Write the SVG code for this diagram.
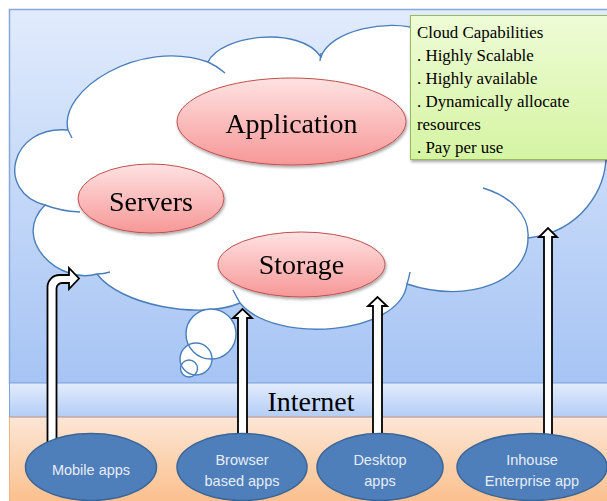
<svg xmlns="http://www.w3.org/2000/svg" width="607" height="501" viewBox="0 0 607 501">
  <defs>
    <linearGradient id="skyGrad" x1="0" y1="0" x2="0" y2="1">
      <stop offset="0" stop-color="#e1ebfc"/>
      <stop offset="1" stop-color="#a6c4f4"/>
    </linearGradient>
    <linearGradient id="netGrad" x1="0" y1="0" x2="0" y2="1">
      <stop offset="0" stop-color="#e3ecfc"/>
      <stop offset="1" stop-color="#b3cdf6"/>
    </linearGradient>
    <linearGradient id="groundGrad" x1="0" y1="0" x2="0" y2="1">
      <stop offset="0" stop-color="#fde6d5"/>
      <stop offset="1" stop-color="#fbbd88"/>
    </linearGradient>
    <linearGradient id="redGrad" x1="0" y1="0" x2="0" y2="1">
      <stop offset="0" stop-color="#ffe2e2"/>
      <stop offset="1" stop-color="#f79797"/>
    </linearGradient>
    <linearGradient id="greenGrad" x1="0" y1="0" x2="0" y2="1">
      <stop offset="0" stop-color="#eefcd6"/>
      <stop offset="1" stop-color="#d5f4a3"/>
    </linearGradient>
    <filter id="shadow" x="-10%" y="-10%" width="130%" height="140%">
      <feGaussianBlur in="SourceAlpha" stdDeviation="1.5"/>
      <feOffset dx="1" dy="2" result="b"/>
      <feComponentTransfer><feFuncA type="linear" slope="0.35"/></feComponentTransfer>
      <feMerge><feMergeNode/><feMergeNode in="SourceGraphic"/></feMerge>
    </filter>
  </defs>
  <style>
    .cloud { fill: #ffffff; stroke: #4a7ebb; stroke-width: 1.4; }
    .tip { fill: none; stroke: #4a7ebb; stroke-width: 1.4; }
    .part { fill: url(#redGrad); stroke: #c0504d; stroke-width: 1; }
    .partText { font-family: "Liberation Serif", "Times New Roman", serif; font-size: 28px; fill: #000; text-anchor: middle; }
    .note { font-family: "Liberation Serif", "Times New Roman", serif; font-size: 16.9px; fill: #000; }
    .app { fill: #4f7fbb; stroke: #3a6597; stroke-width: 1.5; }
    .appText { font-family: "Liberation Sans", Arial, sans-serif; font-size: 14.5px; fill: #e6edf7; text-anchor: middle; }
    .arrow { fill: #ffffff; stroke: #000; stroke-width: 1.8; stroke-linejoin: miter; }
  </style>

  <!-- background layers -->
  <rect x="9.5" y="9.5" width="600" height="374" fill="url(#skyGrad)" stroke="#86a9dc" stroke-width="1.5"/>
  <rect x="9.5" y="383" width="600" height="34" fill="url(#netGrad)" stroke="#7ea3d9" stroke-width="1"/>
  <rect x="9.5" y="417.5" width="600" height="90" fill="url(#groundGrad)" stroke="#f3b27f" stroke-width="1"/>
  <text x="311" y="411" class="partText">Internet</text>

  <!-- cloud -->
  <g id="cloud">
    <path class="cloud" d="M68,130 C58,90 140,38 208,62 C220,35 300,25 321,57 C330,30 390,18 420,30 L600,40 L608,120 L606,150 C608,190 580,232 528,238 C528,280 470,305 407,284 C400,335 275,345 240,303 C200,320 120,305 97,274 C60,285 10,240 45,205 C-5,192 10,125 68,130 Z"/>
    <path class="tip" d="M68,130 Q70,134 72,138"/>
    <path class="tip" d="M208,62 Q217,66 225,73"/>
    <path class="tip" d="M321,53 L320,61"/>
    <path class="tip" d="M45,205 Q60,211 80,212"/>
    <path class="tip" d="M97,274 Q104,274 110,272"/>
    <path class="tip" d="M240,303 Q236,296 233,290"/>
    <path class="tip" d="M407,284 Q409,278 410,272"/>
    <path class="tip" d="M528,238 C530,215 510,196 483,188"/>
    <!-- thought bubbles -->
    <circle cx="211" cy="334" r="25" fill="#fff"/>
    <circle cx="196" cy="359" r="16" fill="#fff"/>
    <circle cx="189" cy="368.5" r="8.5" fill="#fff"/>
    <circle cx="211" cy="334" r="25" class="tip"/>
    <circle cx="196" cy="359" r="16" class="tip"/>
    <circle cx="189" cy="368.5" r="8.5" class="tip"/>
  </g>

  <!-- capabilities note -->
  <g id="capabilities">
    <rect x="410.5" y="15.5" width="200" height="144" fill="url(#greenGrad)" stroke="#9bbb59" stroke-width="1" filter="url(#shadow)"/>
    <text class="note" x="417" y="38">Cloud Capabilities</text>
    <text class="note" x="417" y="61">. Highly Scalable</text>
    <text class="note" x="417" y="84">. Highly available</text>
    <text class="note" x="417" y="107">. Dynamically allocate</text>
    <text class="note" x="417" y="130">resources</text>
    <text class="note" x="417" y="153">. Pay per use</text>
  </g>

  <!-- cloud services -->
  <g id="application" filter="url(#shadow)">
    <ellipse class="part" cx="291.5" cy="121.5" rx="114.5" ry="43.5"/>
    <text class="partText" x="291.5" y="133">Application</text>
  </g>
  <g id="servers" filter="url(#shadow)">
    <ellipse class="part" cx="151" cy="198.5" rx="73" ry="34.5"/>
    <text class="partText" x="151" y="211">Servers</text>
  </g>
  <g id="storage" filter="url(#shadow)">
    <ellipse class="part" cx="301.5" cy="264.5" rx="83.5" ry="32.5"/>
    <text class="partText" x="301.5" y="274">Storage</text>
  </g>

  <!-- connectors -->
  <g id="connectors">
    <path class="arrow" d="M47.5,445 V287 A12,12 0 0 1 59.5,275 H69 V268 L79,278.5 L69,289 V283 H62 A5.5,5.5 0 0 0 56.5,288.5 V445 Z"/>
    <path class="arrow" d="M238,445 V318 H233 L242.5,309 L252,318 H247 V445 Z"/>
    <path class="arrow" d="M373,445 V306 H368 L377.5,297 L387,306 H382 V445 Z"/>
    <path class="arrow" d="M544,445 V237 H539 L548,228 L557,237 H552 V445 Z"/>
  </g>

  <!-- clients -->
  <g id="mobile">
    <ellipse class="app" cx="91" cy="467" rx="65.5" ry="33.5"/>
    <text class="appText" x="91" y="475">Mobile apps</text>
  </g>
  <g id="browser">
    <ellipse class="app" cx="242" cy="467" rx="65" ry="33.5"/>
    <text class="appText" x="242" y="465">Browser</text>
    <text class="appText" x="242" y="486">based apps</text>
  </g>
  <g id="desktop">
    <ellipse class="app" cx="380" cy="467" rx="63" ry="33.5"/>
    <text class="appText" x="380" y="465">Desktop</text>
    <text class="appText" x="380" y="486">apps</text>
  </g>
  <g id="inhouse">
    <ellipse class="app" cx="532" cy="467" rx="75" ry="33.5"/>
    <text class="appText" x="532" y="465">Inhouse</text>
    <text class="appText" x="532" y="486">Enterprise app</text>
  </g>
</svg>
